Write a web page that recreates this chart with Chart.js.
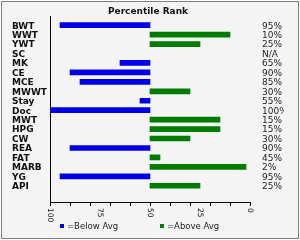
<!DOCTYPE html>
<html>
<head>
<meta charset="utf-8">
<script src="https://cdn.jsdelivr.net/npm/chart.js@4/dist/chart.umd.min.js"></script>
<style>
  html, body { margin: 0; padding: 0; background: #fff; }
  canvas { display: block; }
</style>
</head>
<body>
<canvas id="rankChart" width="300" height="240"></canvas>
<script>
// traits, top to bottom
const categories = ["BWT", "WWT", "YWT", "SC", "MK", "CE", "MCE", "MWWT", "Stay", "Doc",
  "MWT", "HPG", "CW", "REA", "FAT", "MARB", "YG", "API"];
// percentile rank per trait (null = N/A)
const percentRank = [95, 10, 25, null, 65, 90, 85, 30, 55, 100, 15, 15, 30, 90, 45, 2, 95, 25];
const rankLabels = ["95%", "10%", "25%", "N/A", "65%", "90%", "85%", "30%", "55%", "100%",
  "15%", "15%", "30%", "90%", "45%", "2%", "95%", "25%"];
const xTickValues = [100, 75, 50, 25, 0];
const average = 50;

// bars start at the average and run out to the rank
const belowAvg = [];
const aboveAvg = [];
percentRank.forEach((v, i) => {
  if (v == null) return;
  (v > average ? belowAvg : aboveAvg).push({ x: [average, v], y: i });
});

const FONT = "'DejaVu Sans', Verdana, sans-serif";

const framePlugin = {
  id: "frame",
  beforeDraw(chart) {
    const c = chart.ctx;
    c.save();
    c.fillStyle = "#ffffff";
    c.fillRect(0, 0, chart.width, chart.height);
    c.fillStyle = "#f4f4f4";
    c.fillRect(1, 1, chart.width - 2, chart.height - 2);
    c.strokeStyle = "#7f7f7f";
    c.lineWidth = 1;
    c.strokeRect(1.5, 1.5, chart.width - 3, chart.height - 3);
    c.restore();
  }
};

// x labels read top to bottom (turned clockwise)
const xLabelPlugin = {
  id: "xLabels",
  afterDraw(chart) {
    const sx = chart.scales.x;
    const c = chart.ctx;
    c.save();
    c.fillStyle = "#111";
    c.font = "7.5px " + FONT;
    c.textAlign = "left";
    c.textBaseline = "middle";
    xTickValues.forEach((v) => {
      c.save();
      c.translate(sx.getPixelForValue(v), sx.top + 6);
      c.rotate(Math.PI / 2);
      c.fillText(String(v), 0, 0);
      c.restore();
    });
    c.restore();
  }
};

const legendPlugin = {
  id: "sideLegend",
  afterDraw(chart) {
    const c = chart.ctx;
    const area = chart.chartArea;
    const y = area.bottom + 24;
    c.save();
    c.font = "8.5px " + FONT;
    c.textAlign = "left";
    c.textBaseline = "middle";
    chart.data.datasets.forEach((ds, i) => {
      const x = area.left + 10 + i * 100;
      c.fillStyle = ds.backgroundColor;
      c.fillRect(x, y - 2, 4, 4);
      c.fillStyle = "#222";
      c.fillText(ds.label, x + 7, y + 1);
    });
    c.restore();
  }
};

new Chart(document.getElementById("rankChart"), {
  type: "bar",
  data: {
    datasets: [
      { label: "=Below Avg", data: belowAvg, backgroundColor: "#0000e6" },
      { label: "=Above Avg", data: aboveAvg, backgroundColor: "#007d00" }
    ]
  },
  options: {
    responsive: false,
    animation: false,
    indexAxis: "y",
    layout: { padding: { left: 12, right: 16, top: 0, bottom: 0 } },
    datasets: { bar: { grouped: false, barThickness: 5, borderWidth: 0 } },
    plugins: {
      legend: { display: false },
      tooltip: { enabled: false },
      title: {
        display: true,
        text: "Percentile Rank",
        color: "#111",
        font: { family: FONT, size: 9, weight: "bold", lineHeight: 1 },
        padding: { top: 7, bottom: 0 }
      }
    },
    scales: {
      x: {
        type: "linear",
        reverse: true,
        min: 0,
        max: 100,
        ticks: { display: false, stepSize: 10 },
        grid: { display: true, drawOnChartArea: false, drawTicks: true, tickLength: 4, color: "#000" },
        border: { display: true, color: "#000", width: 1 },
        afterFit: (s) => { s.height = 38; }
      },
      y: {
        type: "linear",
        reverse: true,
        min: -0.4,
        max: 18.2,
        position: "left",
        ticks: {
          stepSize: 1,
          includeBounds: false,
          autoSkip: false,
          crossAlign: "far",
          padding: 0,
          labelOffset: 1,
          color: "#111",
          font: { family: FONT, size: 9, weight: "bold", lineHeight: 1 },
          callback: (v) => (Number.isInteger(v) && categories[v]) ? categories[v] : ""
        },
        grid: { display: false, drawTicks: false },
        border: { display: true, color: "#000", width: 1 },
        afterFit: (s) => { s.width = 38; }
      },
      y2: {
        type: "linear",
        axis: "y",
        reverse: true,
        min: -0.4,
        max: 18.2,
        position: "right",
        ticks: {
          stepSize: 1,
          includeBounds: false,
          autoSkip: false,
          padding: 12,
          labelOffset: 1,
          color: "#222",
          font: { family: FONT, size: 9, lineHeight: 1 },
          callback: (v) => (Number.isInteger(v) && rankLabels[v]) ? rankLabels[v] : ""
        },
        grid: { display: false, drawTicks: false },
        border: { display: false },
        afterFit: (s) => { s.width = 34; }
      }
    }
  },
  plugins: [framePlugin, xLabelPlugin, legendPlugin]
});
</script>
</body>
</html>
